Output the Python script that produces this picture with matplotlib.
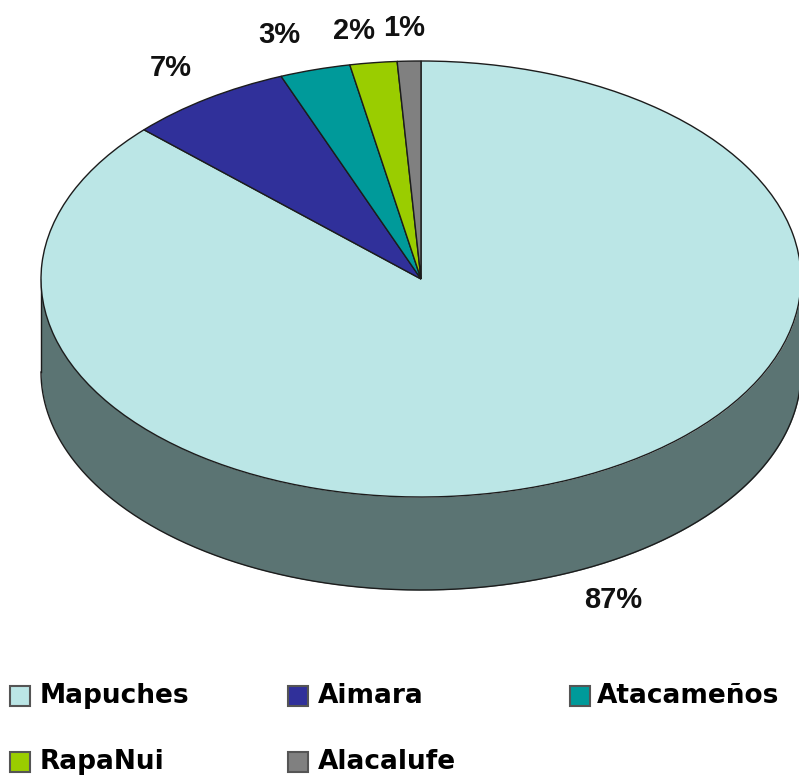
import numpy as np
import matplotlib
matplotlib.use("Agg")
import matplotlib.pyplot as plt
from matplotlib.patches import Rectangle

W, H = 799, 778

categories = ['Mapuches', 'Aimara', 'Atacameños', 'RapaNui', 'Alacalufe']
values = [87, 7, 3, 2, 1]
pct_labels = ['87%', '7%', '3%', '2%', '1%']
colors = ['#bbe6e6', '#30309a', '#009a9a', '#9acd00', '#808080']

# pixel geometry of the tilted pie
cx, cy = 421, 279
rx, ry = 380, 218
depth = 93 / ry
wall_color = '#5b7473'
edge = '#1c1c1c'

# label and legend positions in image pixels
label_pos = [(613, 600), (171, 68), (279, 35), (354, 31), (404, 28)]
legend_pos = [(10, 696), (288, 696), (570, 696), (10, 762), (288, 762)]
legend_text_x = [40, 318, 597, 40, 318]

fig = plt.figure(figsize=(W / 100, H / 100), dpi=100)
ax = fig.add_axes([0, 0, 1, 1])

# side wall, front half of the ellipse pushed down
t = np.linspace(np.pi, 2 * np.pi, 400)
ax.fill_between(np.cos(t), np.sin(t), np.sin(t) - depth, color=wall_color, lw=0, zorder=1)
ax.plot(np.cos(t), np.sin(t) - depth, color=edge, lw=1, zorder=2)
ax.plot([-1, -1], [0, -depth], color=edge, lw=1, zorder=2)
ax.plot([1, 1], [0, -depth], color=edge, lw=1, zorder=2)

wedges, _ = ax.pie(values, colors=colors, startangle=90, counterclock=False,
                   wedgeprops=dict(edgecolor=edge, linewidth=1))
for w in wedges:
    w.set_zorder(3)

ax.set_aspect('auto')
ax.set_xlim((0 - cx) / rx, (W - cx) / rx)
ax.set_ylim((cy - H) / ry, cy / ry)
ax.axis('off')

for s, (x, y) in zip(pct_labels, label_pos):
    fig.text(x / W, 1 - y / H, s, family='Liberation Sans', weight='bold', fontsize=21,
             color='#111111', ha='center', va='center')

# legend laid out by hand, the columns are evenly spaced in the original
for name, c, (x, y), tx in zip(categories, colors, legend_pos, legend_text_x):
    fig.add_artist(Rectangle((x / W, 1 - (y + 10) / H), 20 / W, 20 / H, transform=fig.transFigure,
                             facecolor=c, edgecolor='#555555', linewidth=1.5))
    fig.text(tx / W, 1 - y / H, name, family='DejaVu Sans', weight='bold', fontsize=19,
             color='black', ha='left', va='center')

fig.savefig('out.png', dpi=100)
